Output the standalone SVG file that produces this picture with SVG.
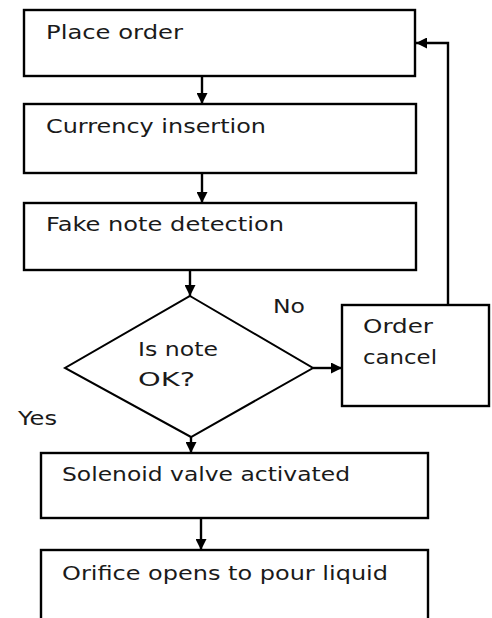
<svg xmlns="http://www.w3.org/2000/svg" width="492" height="618" viewBox="0 0 492 618">
<defs>
<marker id="ah" viewBox="0 0 10 10" refX="10" refY="5" markerWidth="11" markerHeight="11" markerUnits="userSpaceOnUse" orient="auto">
<path d="M0,0 L10,5 L0,10 Z" fill="#000"/>
</marker>
</defs>
<style>
.box{fill:#fff;stroke:#000;stroke-width:2.4}
.dia{fill:#fff;stroke:#000;stroke-width:2}
.ln{fill:none;stroke:#000;stroke-width:2.4}
text{font-family:"DejaVu Sans","Liberation Sans",sans-serif;font-size:19px;fill:#1a1a1a}
</style>
<rect width="492" height="618" fill="#fff"/>
<g id="connectors">
<line class="ln" x1="202" y1="76" x2="202" y2="104" marker-end="url(#ah)"/>
<line class="ln" x1="202" y1="173" x2="202" y2="203" marker-end="url(#ah)"/>
<line class="ln" x1="190" y1="270" x2="190" y2="296" marker-end="url(#ah)"/>
<line class="ln" x1="313" y1="368" x2="342" y2="368" marker-end="url(#ah)"/>
<polyline class="ln" points="448,305 448,43 416,43" marker-end="url(#ah)"/>
<line class="ln" x1="191" y1="437" x2="191" y2="453" marker-end="url(#ah)"/>
<line class="ln" x1="201" y1="518" x2="201" y2="550" marker-end="url(#ah)"/>
</g>
<g id="place-order">
<rect class="box" x="24" y="10" width="391" height="66"/>
<text x="46" y="39" textLength="137" lengthAdjust="spacingAndGlyphs">Place order</text>
</g>
<g id="currency-insertion">
<rect class="box" x="24" y="104" width="392" height="69"/>
<text x="46" y="133" textLength="220" lengthAdjust="spacingAndGlyphs">Currency insertion</text>
</g>
<g id="fake-note-detection">
<rect class="box" x="24" y="203" width="392" height="67"/>
<text x="46" y="231" textLength="238" lengthAdjust="spacingAndGlyphs">Fake note detection</text>
</g>
<g id="is-note-ok">
<polygon class="dia" points="190,296 313,368 191,437 65,368"/>
<text x="138" y="356" textLength="80" lengthAdjust="spacingAndGlyphs">Is note</text>
<text x="138" y="386" textLength="57" lengthAdjust="spacingAndGlyphs">OK?</text>
</g>
<g id="label-no">
<text x="273" y="313" textLength="32" lengthAdjust="spacingAndGlyphs">No</text>
</g>
<g id="label-yes">
<text x="18" y="425" textLength="39" lengthAdjust="spacingAndGlyphs">Yes</text>
</g>
<g id="order-cancel">
<rect class="box" x="342" y="305" width="147" height="101"/>
<text x="363" y="333" textLength="70" lengthAdjust="spacingAndGlyphs">Order</text>
<text x="363" y="364" textLength="74" lengthAdjust="spacingAndGlyphs">cancel</text>
</g>
<g id="solenoid-valve">
<rect class="box" x="41" y="453" width="387" height="65"/>
<text x="62" y="481" textLength="288" lengthAdjust="spacingAndGlyphs">Solenoid valve activated</text>
</g>
<g id="orifice-opens">
<rect class="box" x="41" y="550" width="387" height="80"/>
<text x="62" y="580" textLength="326" lengthAdjust="spacingAndGlyphs">Orifice opens to pour liquid</text>
</g>
</svg>
